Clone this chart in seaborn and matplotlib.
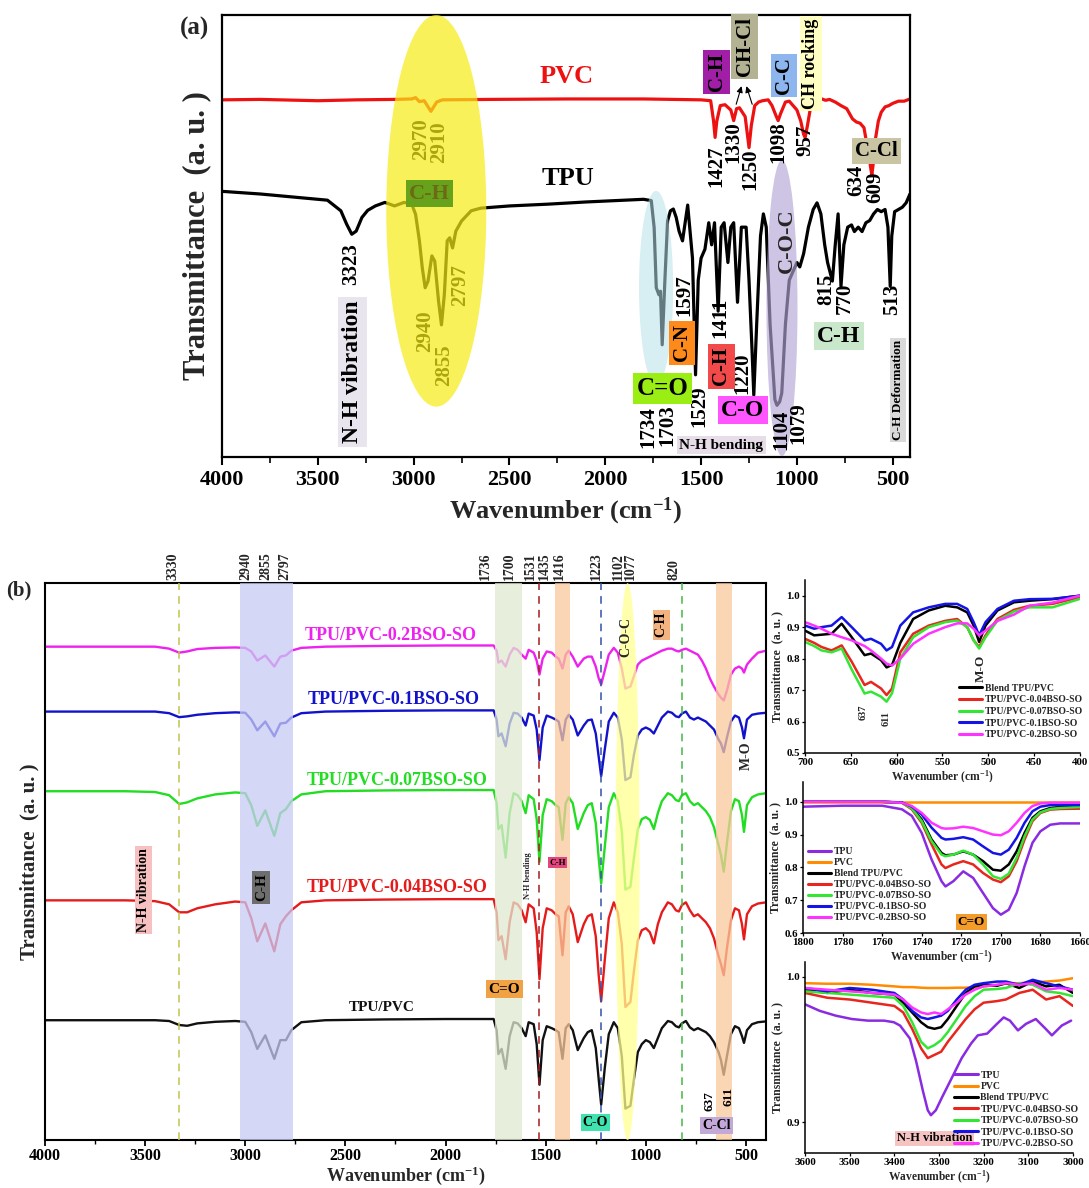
import numpy as np
import pandas as pd
import matplotlib
matplotlib.use("Agg")
import matplotlib.pyplot as plt
import matplotlib.transforms as mtransforms
from matplotlib.patches import Ellipse
from matplotlib.ticker import MultipleLocator, FormatStrFormatter
import seaborn as sns

sns.set_style("ticks")
plt.rcParams["font.family"] = ["Liberation Serif", "DejaVu Serif"]
plt.rcParams["font.weight"] = "bold"
plt.rcParams["axes.labelweight"] = "bold"
plt.rcParams["mathtext.fontset"] = "custom"
plt.rcParams["mathtext.rm"] = "Liberation Serif:bold"
plt.rcParams["mathtext.bf"] = "Liberation Serif:bold"
plt.rcParams["mathtext.it"] = "Liberation Serif:bold:italic"
plt.rcParams["axes.edgecolor"] = "black"
plt.rcParams["xtick.color"] = "black"
plt.rcParams["ytick.color"] = "black"

XLAB = r"Wavenumber (cm$^{\mathbf{-1}}$)"
YLAB = "Transmittance  (a. u. )"

# ---------------- panel (a): neat PVC and TPU spectra (stacked, a.u.) ----------------
PVC_WN = [4000, 3800, 3500, 3300, 3100, 3010, 2990, 2970, 2945, 2910,
          2880, 2850, 2600, 2200, 1800, 1500, 1450, 1435, 1427, 1418,
          1400, 1375, 1345, 1330, 1315, 1300, 1270, 1250, 1238, 1220,
          1200, 1180, 1150, 1130, 1110, 1098, 1085, 1060, 1040, 1020,
          1000, 980, 965, 957, 945, 930, 915, 890, 870, 850,
          830, 800, 770, 740, 710, 690, 670, 650, 640, 634,
          625, 617, 609, 600, 590, 575, 560, 540, 520, 500,
          470, 440, 410]
PVC_T = [80.8, 80.9, 80.6, 80.8, 80.9, 81.0, 81.3, 80.4, 80.6, 78.2,
         80.3, 80.8, 80.9, 81.0, 81.0, 80.8, 80.6, 76.0, 72.3, 76.0,
         79.5, 79.7, 78.5, 76.1, 78.8, 79.0, 77.0, 70.0, 75.0, 79.5,
         80.3, 80.6, 80.8, 79.5, 77.3, 76.1, 77.7, 80.3, 80.5, 79.5,
         78.5, 76.0, 73.0, 72.3, 75.0, 78.8, 80.3, 80.8, 81.0, 80.7,
         80.9, 80.3, 79.5, 78.8, 76.5, 75.8, 75.5, 74.5, 72.0, 71.5,
         70.0, 66.0, 63.8, 67.0, 72.0, 76.0, 78.0, 79.2, 79.5, 80.0,
         80.5, 80.5, 81.0]

TPU_WN = [4000, 3800, 3600, 3450, 3380, 3350, 3323, 3300, 3270, 3240,
          3200, 3150, 3100, 3050, 3010, 2990, 2970, 2955, 2940, 2925,
          2905, 2890, 2870, 2855, 2840, 2825, 2812, 2797, 2780, 2750,
          2700, 2650, 2500, 2300, 2100, 1900, 1800, 1760, 1745, 1734,
          1720, 1712, 1703, 1690, 1675, 1660, 1645, 1630, 1615, 1597,
          1570, 1545, 1529, 1515, 1500, 1480, 1460, 1445, 1430, 1411,
          1395, 1380, 1360, 1345, 1330, 1310, 1290, 1265, 1250, 1235,
          1225, 1210, 1190, 1175, 1160, 1140, 1115, 1104, 1090, 1079,
          1060, 1040, 1020, 1000, 985, 965, 940, 915, 895, 875,
          855, 840, 815, 800, 785, 770, 755, 735, 715, 700,
          680, 660, 640, 620, 600, 580, 560, 540, 525, 513,
          505, 490, 470, 450, 430, 410]
TPU_T = [60.1, 59.5, 58.7, 58.1, 55.7, 52.7, 50.4, 51.1, 54.2, 55.8,
         56.8, 57.6, 56.8, 57.6, 57.2, 54.9, 48.9, 42.8, 38.3, 39.8,
         45.5, 44.3, 35.2, 29.9, 36.7, 48.9, 49.6, 47.3, 51.1, 53.4,
         55.7, 56.3, 56.8, 57.2, 57.7, 58.1, 58.3, 58.0, 51.9, 38.3,
         36.7, 37.5, 25.4, 39.0, 53.4, 55.7, 56.1, 54.2, 51.1, 48.9,
         57.0, 45.0, 18.6, 40.0, 45.0, 47.0, 53.0, 48.0, 53.0, 33.0,
         52.0, 53.0, 44.0, 52.0, 53.0, 35.0, 52.0, 52.0, 40.0, 25.0,
         14.0, 30.0, 50.0, 55.0, 52.0, 30.0, 13.0, 11.7, 12.5, 14.5,
         30.0, 40.0, 42.0, 44.0, 43.0, 46.0, 52.0, 56.0, 57.5, 55.0,
         48.0, 44.0, 39.8, 48.0, 55.0, 38.6, 48.0, 52.0, 52.5, 51.0,
         52.0, 51.0, 53.0, 53.5, 55.0, 56.0, 55.5, 56.0, 52.0, 38.6,
         50.0, 55.5, 56.0, 56.5, 57.5, 59.5]

# ---------------- panel (b): blends, absorption depth below each baseline ----------------
WN_B = [4000, 3800, 3600, 3450, 3380, 3330, 3290, 3240, 3150, 3050,
        3000, 2970, 2940, 2900, 2855, 2825, 2797, 2770, 2720, 2600,
        2300, 2000, 1800, 1760, 1745, 1736, 1720, 1700, 1680, 1660,
        1640, 1620, 1600, 1585, 1560, 1545, 1531, 1515, 1495, 1470,
        1450, 1435, 1416, 1400, 1385, 1365, 1340, 1310, 1290, 1270,
        1250, 1235, 1223, 1205, 1185, 1160, 1140, 1120, 1102, 1077,
        1060, 1040, 1020, 1000, 980, 960, 940, 920, 890, 870,
        850, 835, 820, 800, 780, 760, 740, 720, 700, 680,
        660, 637, 625, 611, 595, 575, 555, 535, 520, 510,
        495, 470, 440, 400]
DEPTH_BLEND = [0, 0, 0, 0, 2, 12, 14, 8, 4, 2,
               4, 30, 72, 38, 97, 50, 50, 25, 5, 0,
               -2, -3, -3, -3, 25, 85, 72, 122, 40, 5,
               8, 20, 40, 5, 10, 60, 162, 50, 15, 20,
               25, 30, 97, 20, 10, 25, 75, 45, 30, 25,
               70, 150, 212, 120, 35, 5, 20, 90, 222, 215,
               150, 80, 60, 50, 55, 70, 45, 20, 2, 5,
               15, 18, 8, 2, 18, 25, 20, 25, 30, 40,
               55, 80, 100, 137, 90, 35, 15, 20, 40, 57,
               25, 10, 5, 3]
DEPTH_004 = [0, 0, 0, 2, 10, 30, 30, 20, 10, 3,
             5, 45, 103, 58, 128, 60, 40, 25, 5, 0,
             -2, -3, -3, -3, 30, 100, 90, 148, 55, 5,
             10, 25, 55, 10, 20, 80, 198, 70, 20, 25,
             35, 40, 138, 30, 15, 35, 105, 60, 40, 35,
             90, 190, 253, 150, 45, 5, 30, 110, 268, 255,
             180, 100, 75, 70, 80, 108, 60, 30, 5, 10,
             25, 28, 12, 5, 25, 40, 35, 45, 55, 70,
             95, 140, 160, 188, 120, 50, 20, 25, 60, 98,
             35, 15, 8, 5]
DEPTH_007 = [0, 0, 0, 2, 10, 32, 28, 18, 8, 3,
             5, 35, 87, 48, 112, 55, 45, 25, 8, 0,
             -2, -3, -3, -3, 30, 95, 85, 167, 55, 5,
             10, 25, 55, 10, 20, 70, 177, 60, 20, 25,
             35, 40, 122, 30, 15, 30, 95, 55, 35, 30,
             80, 170, 232, 140, 40, 5, 25, 100, 247, 240,
             170, 95, 70, 65, 72, 95, 55, 25, 5, 10,
             22, 25, 10, 5, 25, 35, 30, 40, 50, 65,
             90, 135, 160, 202, 130, 50, 20, 25, 60, 102,
             35, 15, 8, 5]
DEPTH_01 = [0, 0, 0, 0, 4, 14, 12, 8, 4, 2,
            3, 20, 47, 25, 62, 30, 28, 15, 4, 0,
            -2, -3, -3, -3, 20, 62, 55, 87, 30, 3,
            5, 15, 35, 5, 10, 45, 122, 40, 10, 15,
            20, 25, 72, 20, 8, 20, 60, 35, 22, 20,
            55, 115, 162, 95, 25, 3, 15, 70, 172, 165,
            110, 60, 45, 40, 45, 55, 35, 15, 0, 3,
            12, 14, 5, 0, 15, 20, 15, 20, 25, 35,
            45, 70, 80, 102, 65, 25, 10, 15, 40, 67,
            20, 8, 5, 3]
DEPTH_02 = [0, 0, 0, 0, 5, 15, 12, 6, 3, 2,
            3, 12, 35, 22, 50, 25, 22, 10, 3, 0,
            -2, -3, -3, -3, 10, 40, 35, 50, 20, 3,
            8, 20, 30, 8, 15, 35, 70, 30, 12, 15,
            25, 30, 55, 20, 10, 25, 50, 30, 25, 25,
            50, 80, 95, 60, 20, 3, 15, 55, 105, 100,
            75, 45, 35, 30, 25, 20, 15, 10, 5, 5,
            10, 12, 8, 5, 10, 15, 20, 35, 55, 80,
            100, 120, 128, 135, 110, 70, 55, 50, 55, 65,
            45, 30, 15, 10]
B_NAMES = ["TPU/PVC", "TPU/PVC-0.04BSO-SO", "TPU/PVC-0.07BSO-SO",
           "TPU/PVC-0.1BSO-SO", "TPU/PVC-0.2BSO-SO"]
B_BASE = [302, 603, 877, 1077, 1240]
B_COLORS = ["#111111", "#e51b1b", "#22dd22", "#1212cc", "#ee22ee"]
B_LABEL_POS = [(2321, 335), (2240, 635), (2240, 905), (2260, 1107), (2272, 1267)]
B_PEAKS = [3330, 2940, 2855, 2797, 1736, 1700, 1531, 1435, 1416, 1223, 1102, 1077, 820]
# where each peak number sits above the frame (spread so they do not collide)
B_PEAK_TEXT_X = [3360, 2995, 2897, 2800, 1800, 1682, 1578, 1507, 1432, 1247, 1137, 1077, 857]

# ---------------- inset 1: 700-400 cm-1 ----------------
WN_I1 = [700, 690, 682, 671, 660, 649, 635, 628, 617, 611,
         605, 596, 582, 565, 547, 534, 523, 516, 510, 503,
         490, 472, 455, 430, 400]
I1_BLEND = [.889, .874, .876, .879, .911, .868, .811, .816, .795, .772,
            .780, .850, .926, .953, .968, .963, .947, .905, .853, .905,
            .953, .979, .984, .989, 1.0]
I1_004 = [.863, .850, .837, .826, .842, .790, .716, .726, .705, .684,
          .705, .820, .879, .905, .920, .926, .900, .858, .837, .874,
          .926, .955, .968, .974, .995]
I1_007 = [.853, .840, .826, .820, .832, .765, .689, .695, .679, .663,
          .690, .800, .868, .900, .916, .921, .900, .858, .832, .868,
          .921, .950, .963, .963, .990]
I1_01 = [.905, .895, .900, .905, .932, .900, .858, .863, .847, .826,
         .837, .905, .947, .963, .974, .974, .958, .916, .874, .916,
         .958, .984, .989, .990, 1.0]
I1_02 = [.916, .905, .895, .879, .868, .858, .840, .826, .800, .784,
         .778, .800, .847, .879, .900, .912, .912, .895, .874, .889,
         .920, .940, .968, .978, 1.0]

# ---------------- inset 2: C=O region ----------------
WN_I2 = [1800, 1780, 1760, 1750, 1745, 1740, 1735, 1730, 1728, 1724,
         1719, 1714, 1709, 1704, 1700, 1696, 1692, 1688, 1684, 1680,
         1675, 1670, 1660]
I2_TPU = [.985, .988, .988, .977, .957, .905, .824, .758, .742, .758,
          .788, .768, .722, .676, .656, .671, .722, .804, .875, .910,
          .930, .934, .934]
I2_PVC = [.999, .999, .999, .999, .999, .999, .999, .999, .999, .999,
          .999, .999, .999, .999, .999, .999, .999, .999, .999, .999,
          .999, .999, .999]
I2_BLEND = [1.0, 1.0, 1.0, .997, .982, .946, .885, .844, .837, .839,
            .849, .839, .819, .793, .790, .809, .849, .905, .951, .971,
            .981, .984, .987]
I2_004 = [1.0, 1.0, 1.0, .997, .977, .936, .870, .809, .798, .809,
          .819, .809, .783, .763, .755, .773, .819, .885, .941, .966,
          .976, .978, .979]
I2_007 = [1.0, 1.0, 1.0, .997, .980, .941, .880, .839, .834, .839,
          .851, .839, .809, .773, .765, .781, .829, .895, .946, .968,
          .978, .981, .984]
I2_01 = [1.0, 1.0, 1.0, .998, .985, .961, .921, .890, .885, .887,
         .892, .885, .864, .844, .839, .854, .890, .936, .971, .985,
         .990, .990, .990]
I2_02 = [1.0, 1.0, 1.0, .997, .987, .966, .936, .920, .918, .919,
         .924, .920, .910, .900, .898, .910, .936, .966, .987, .995,
         .997, .997, .997]

# ---------------- inset 3: N-H region ----------------
WN_I3_TPU = [3600, 3567, 3531, 3495, 3459, 3423, 3401, 3387, 3365, 3351,
             3336, 3325, 3318, 3307, 3293, 3271, 3249, 3228, 3213, 3192,
             3170, 3155, 3141, 3123, 3105, 3083, 3061, 3047, 3025, 3004]
I3_TPU = [.9810, .9765, .9732, .9709, .9698, .9698, .9687, .9664, .9575, .9418,
          .9217, .9083, .9049, .9083, .9172, .9306, .9441, .9541, .9597, .9609,
          .9676, .9720, .9698, .9631, .9676, .9709, .9642, .9597, .9664, .9698]
WN_I3 = [3600, 3550, 3500, 3450, 3400, 3380, 3360, 3340, 3325, 3310,
         3295, 3280, 3260, 3240, 3220, 3200, 3170, 3150, 3120, 3090,
         3060, 3030, 3000]
I3_PVC = [.9955, .9951, .9951, .9944, .9933, .9928, .9928, .9924, .9922, .9922,
          .9922, .9922, .9924, .9924, .9928, .9933, .9942, .9951, .9955, .9960,
          .9966, .9973, .9989]
I3_BLEND = [.9910, .9888, .9910, .9888, .9877, .9821, .9754, .9687, .9653, .9642,
            .9653, .9709, .9799, .9888, .9933, .9944, .9937, .9955, .9922, .9966,
            .9933, .9944, .9888]
I3_004 = [.9888, .9855, .9843, .9821, .9799, .9754, .9642, .9508, .9441, .9463,
          .9485, .9553, .9631, .9709, .9776, .9821, .9832, .9843, .9888, .9910,
          .9843, .9866, .9799]
I3_007 = [.9899, .9888, .9877, .9866, .9855, .9799, .9687, .9553, .9508, .9530,
          .9564, .9620, .9709, .9799, .9866, .9910, .9915, .9922, .9955, .9944,
          .9899, .9888, .9866]
I3_01 = [.9922, .9899, .9922, .9910, .9888, .9843, .9765, .9720, .9709, .9720,
         .9732, .9765, .9843, .9910, .9944, .9955, .9966, .9966, .9944, .9978,
         .9955, .9933, .9910]
I3_02 = [.9922, .9910, .9899, .9888, .9877, .9843, .9788, .9754, .9743, .9754,
         .9743, .9776, .9821, .9877, .9910, .9933, .9944, .9955, .9944, .9955,
         .9910, .9922, .9910]

INSET_COLORS = {"TPU": "#8a2be2", "PVC": "#ff8c00", "Blend TPU/PVC": "#000000",
                "TPU/PVC-0.04BSO-SO": "#e8251e", "TPU/PVC-0.07BSO-SO": "#33e633",
                "TPU/PVC-0.1BSO-SO": "#1414e6", "TPU/PVC-0.2BSO-SO": "#ff33ff"}


def tag(ax, x, y, s, fc, size, rot=0, color="black", z=4, pad=0.15):
    ax.text(x, y, s, fontsize=size, fontweight="bold", rotation=rot,
            ha="center", va="center", color=color, zorder=z,
            bbox=dict(boxstyle=f"square,pad={pad}", fc=fc, ec="none"))


def num(ax, x, y, s, size, color="black", z=4):
    ax.text(x, y, s, fontsize=size, fontweight="bold", rotation=90,
            ha="center", va="center", color=color, zorder=z)


fig = plt.figure(figsize=(10.89, 11.88), dpi=100)

# =============================== panel (a) ===============================
ax = fig.add_axes([0.2039, 0.6153, 0.6317, 0.3721])
df_a = pd.concat([
    pd.DataFrame({"wn": PVC_WN, "t": PVC_T, "s": "PVC"}),
    pd.DataFrame({"wn": TPU_WN, "t": TPU_T, "s": "TPU"}),
])
sns.lineplot(data=df_a, x="wn", y="t", hue="s", palette={"PVC": "#ee1111", "TPU": "#000000"},
             sort=False, estimator=None, legend=False, lw=2.3, ax=ax, zorder=2)
ax.set_xlim(4000, 410)
ax.set_ylim(0, 100)
ax.set_yticks([])
ax.xaxis.set_major_locator(MultipleLocator(500))
ax.xaxis.set_minor_locator(MultipleLocator(250))
ax.tick_params(axis="x", which="major", direction="out", length=6, width=1.5, labelsize=16)
ax.tick_params(axis="x", which="minor", direction="out", length=4, width=1.2)
for sp in ax.spines.values():
    sp.set_linewidth(1.6)
ax.set_xlabel(XLAB, fontsize=19, labelpad=4)
ax.set_ylabel(YLAB, fontsize=22, labelpad=8)

# highlighted regions
ax.add_patch(Ellipse((2882, 55.7), 522, 88.6, fc="#f6ec14", ec="none", alpha=0.7, zorder=6))
ax.add_patch(Ellipse((1735, 38.3), 178, 43.8, fc="#b6e0ea", ec="none", alpha=0.55, zorder=3))
ax.add_patch(Ellipse((1078, 33.7), 162, 67, fc="#b4a6d6", ec="none", alpha=0.65, zorder=3))

ax.text(2201, 86.1, "PVC", color="#ee1111", fontsize=19, fontweight="bold", ha="center", va="center")
ax.text(2197, 62.9, "TPU", color="black", fontsize=19, fontweight="bold", ha="center", va="center")

for x, y, s in [(2962, 72, "2970"), (2865, 71.2, "2910"), (3327, 43.6, "3323"),
                (2938, 28.4, "2940"), (2841, 20.8, "2855"), (2756, 39, "2797"),
                (1419, 65.9, "1427"), (1329, 71.2, "1330"), (1244, 65.2, "1250"),
                (1095, 71.2, "1098"), (957, 71.6, "957"), (688, 62.5, "634"),
                (592, 61, "609"), (1589, 36.7, "1597"), (1776, 6.8, "1734"),
                (1674, 7.2, "1703"), (1511, 11.4, "1529"), (1399, 31.4, "1411"),
                (1285, 18.9, "1220"), (1080, 6.1, "1104"), (990, 7.6, "1079"),
                (845, 38.0, "815"), (750, 36.0, "770"), (502, 35.6, "513")]:
    num(ax, x, y, s, 15)

tag(ax, 3319, 19.3, "N-H vibration", "#e9e5ef", 17, rot=90)
tag(ax, 2918, 59.6, "C-H", "#66a21c", 16, color="#6e6914", z=7)
tag(ax, 1419, 87.1, "C-H", "#a11fa6", 15, rot=90)
tag(ax, 1273, 92.8, "CH-Cl", "#b3b394", 15, rot=90)
tag(ax, 1066, 86.4, "C-C", "#8db6ef", 15, rot=90)
tag(ax, 928, 89.0, "CH rocking", "#ffffc4", 13, rot=90)
tag(ax, 585, 69.3, "C-Cl", "#c9c4a2", 15)
tag(ax, 1601, 25.8, "C-N", "#ff8a1c", 15, rot=90)
tag(ax, 1703, 15.5, "C=O", "#9aee14", 18)
tag(ax, 1394, 20.5, "C-H", "#f24a4a", 15, rot=90)
tag(ax, 1282, 10.6, "C-O", "#ff55ff", 17)
tag(ax, 1394, 2.7, "N-H bending", "#e7dde9", 11)
tag(ax, 782, 27.3, "C-H", "#c9e7cb", 17)
tag(ax, 471, 15.2, "C-H Deformation", "#d9d9d9", 9.5, rot=90)
ax.text(1054, 48.9, "C-O-C", rotation=90, fontsize=16, fontweight="bold",
        ha="center", va="center", zorder=4)
ax.annotate("", xy=(1285, 84.5), xytext=(1321, 79.2),
            arrowprops=dict(arrowstyle="-|>", color="black", lw=0.8, mutation_scale=9))
ax.annotate("", xy=(1268, 84.5), xytext=(1229, 79.2),
            arrowprops=dict(arrowstyle="-|>", color="black", lw=0.8, mutation_scale=9))
fig.text(0.179, 0.976, "(a)", fontsize=18, fontweight="bold", ha="center", va="center")

# =============================== panel (b) ===============================
bx = fig.add_axes([0.0413, 0.0400, 0.6621, 0.4693])
depths = [DEPTH_BLEND, DEPTH_004, DEPTH_007, DEPTH_01, DEPTH_02]
frames = []
for name, base, d in zip(B_NAMES, B_BASE, depths):
    frames.append(pd.DataFrame({"wn": WN_B, "t": base - np.asarray(d, float), "s": name}))
df_b = pd.concat(frames)
sns.lineplot(data=df_b, x="wn", y="t", hue="s", palette=dict(zip(B_NAMES, B_COLORS)),
             sort=False, estimator=None, legend=False, lw=1.7, ax=bx, zorder=2)
bx.set_xlim(4000, 400)
bx.set_ylim(0, 1400)
bx.set_yticks([])
bx.xaxis.set_major_locator(MultipleLocator(500))
bx.xaxis.set_minor_locator(MultipleLocator(250))
bx.tick_params(axis="x", which="major", direction="out", length=4, width=1.3,
               labelsize=11.5, pad=1.5)
bx.tick_params(axis="x", which="minor", direction="out", length=3, width=1.0)
for sp in bx.spines.values():
    sp.set_linewidth(1.5)
bx.set_xlabel(XLAB, fontsize=13, labelpad=0)
bx.set_ylabel(YLAB, fontsize=15, labelpad=4)

# shaded bands and guide lines
for lo, hi, c in [(2764, 3028, "#c7caf3"), (1620, 1755, "#e0e9d1"),
                  (1381, 1455, "#f9c99b"), (569, 648, "#f9c99b")]:
    bx.axvspan(lo, hi, color=c, alpha=0.75, lw=0, zorder=3)
bx.add_patch(Ellipse((1091, 700), 120, 1400, fc="#ffff90", ec="none", alpha=0.75, zorder=3))
for w, c in [(3330, "#c2c24a"), (1531, "#a31c1c"), (1223, "#3352a8"), (820, "#42b842")]:
    bx.axvline(w, color=c, ls=(0, (5, 4)), lw=1.1, zorder=4)

for (x, y), name, c in zip(B_LABEL_POS, B_NAMES, B_COLORS):
    bx.text(x, y, name, color=c, fontsize=13 if name != "TPU/PVC" else 11,
            fontweight="bold", ha="center", va="center", zorder=5)

top = mtransforms.blended_transform_factory(bx.transData, bx.transAxes)
for w, xt in zip(B_PEAKS, B_PEAK_TEXT_X):
    bx.text(xt, 1.006, str(w), transform=top, rotation=90, fontsize=10,
            fontweight="bold", ha="center", va="bottom")

tag(bx, 3508, 628, "N-H vibration", "#f7c1c1", 10, rot=90)
tag(bx, 2920, 635, "C-H", "#6e6e6e", 11, rot=90)
tag(bx, 1706, 380, "C=O", "#f0a244", 11)
bx.text(1588, 665, "N-H bending", rotation=90, fontsize=6, fontweight="bold",
        ha="center", va="center", zorder=5)
tag(bx, 1440, 698, "C-H", "#e3457e", 6.5)
bx.text(1098, 1265, "C-O-C", rotation=90, fontsize=10, fontweight="bold",
        ha="center", va="center", zorder=5)
tag(bx, 923, 1295, "C-H", "#f4b27f", 10, rot=90)
bx.text(500, 965, "M-O", rotation=90, fontsize=10, fontweight="bold",
        ha="center", va="center", zorder=5)
tag(bx, 1251, 45, "C-O", "#3ee3b0", 10)
tag(bx, 648, 38, "C-Cl", "#c3a9d8", 10)
num(bx, 680, 100, "637", 9.5, z=5)
num(bx, 586, 110, "611", 9.5, z=5)
fig.text(0.017, 0.503, "(b)", fontsize=15, fontweight="bold", ha="center", va="center")


# =============================== insets ===============================
def inset(rect, series, xlim, ylim, yticks, xticks, loc, anchor, spacing):
    a = fig.add_axes(rect)
    frames = [pd.DataFrame({"wn": w, "t": t, "s": n}) for n, w, t in series]
    d = pd.concat(frames)
    names = [n for n, _, _ in series]
    sns.lineplot(data=d, x="wn", y="t", hue="s", hue_order=names,
                 palette={n: INSET_COLORS[n] for n in names},
                 sort=False, estimator=None, lw=1.8, ax=a)
    a.set_xlim(*xlim)
    a.set_ylim(*ylim)
    a.set_yticks(yticks)
    a.set_xticks(xticks)
    a.yaxis.set_major_formatter(FormatStrFormatter("%.1f"))
    a.tick_params(labelsize=7.8, length=2.5, width=0.9, pad=1.2)
    a.spines["top"].set_visible(False)
    a.spines["right"].set_visible(False)
    for sp in ("left", "bottom"):
        a.spines[sp].set_linewidth(1.1)
    a.set_xlabel(XLAB, fontsize=8.3, labelpad=1.5)
    a.set_ylabel(YLAB, fontsize=8.5, labelpad=2)
    leg = a.legend(loc=loc, bbox_to_anchor=anchor, frameon=False, handlelength=2.4,
                   labelspacing=spacing, borderaxespad=0.1, handletextpad=0.3,
                   prop={"family": "Liberation Serif", "weight": "bold", "size": 7.0})
    for ln in leg.get_lines():
        ln.set_linewidth(2.2)
    return a


i1 = inset([0.7392, 0.3662, 0.2525, 0.1456],
           [("Blend TPU/PVC", WN_I1, I1_BLEND), ("TPU/PVC-0.04BSO-SO", WN_I1, I1_004),
            ("TPU/PVC-0.07BSO-SO", WN_I1, I1_007), ("TPU/PVC-0.1BSO-SO", WN_I1, I1_01),
            ("TPU/PVC-0.2BSO-SO", WN_I1, I1_02)],
           (700, 400), (0.5, 1.05), [0.5, 0.6, 0.7, 0.8, 0.9, 1.0],
           [700, 650, 600, 550, 500, 450, 400], "lower right", (1.03, 0.05), 0.28)
for x, y, s in [(637, 0.63, "637"), (611, 0.61, "611")]:
    i1.text(x, y, s, rotation=90, fontsize=7.5, fontweight="bold", ha="center", va="center")
i1.text(508, 0.77, "M-O", rotation=90, fontsize=9.5, fontweight="bold", ha="center", va="center")

i2 = inset([0.7374, 0.2146, 0.2543, 0.1271],
           [("TPU", WN_I2, I2_TPU), ("PVC", WN_I2, I2_PVC), ("Blend TPU/PVC", WN_I2, I2_BLEND),
            ("TPU/PVC-0.04BSO-SO", WN_I2, I2_004), ("TPU/PVC-0.07BSO-SO", WN_I2, I2_007),
            ("TPU/PVC-0.1BSO-SO", WN_I2, I2_01), ("TPU/PVC-0.2BSO-SO", WN_I2, I2_02)],
           (1800, 1660), (0.6, 1.06), [0.6, 0.7, 0.8, 0.9, 1.0],
           [1800, 1780, 1760, 1740, 1720, 1700, 1680, 1660], "lower left", (0.0, 0.04), 0.2)
tag(i2, 1715, 0.635, "C=O", "#f39c2a", 9.5)

i3 = inset([0.7392, 0.0295, 0.2460, 0.1607],
           [("TPU", WN_I3_TPU, I3_TPU), ("PVC", WN_I3, I3_PVC), ("Blend TPU/PVC", WN_I3, I3_BLEND),
            ("TPU/PVC-0.04BSO-SO", WN_I3, I3_004), ("TPU/PVC-0.07BSO-SO", WN_I3, I3_007),
            ("TPU/PVC-0.1BSO-SO", WN_I3, I3_01), ("TPU/PVC-0.2BSO-SO", WN_I3, I3_02)],
           (3600, 3000), (0.879, 1.01), [0.9, 1.0],
           [3600, 3500, 3400, 3300, 3200, 3100, 3000], "lower right", (1.04, 0.0), 0.25)
tag(i3, 3310, 0.889, "N-H vibration", "#f6c3c3", 9)

fig.savefig("out.png", dpi=100)
